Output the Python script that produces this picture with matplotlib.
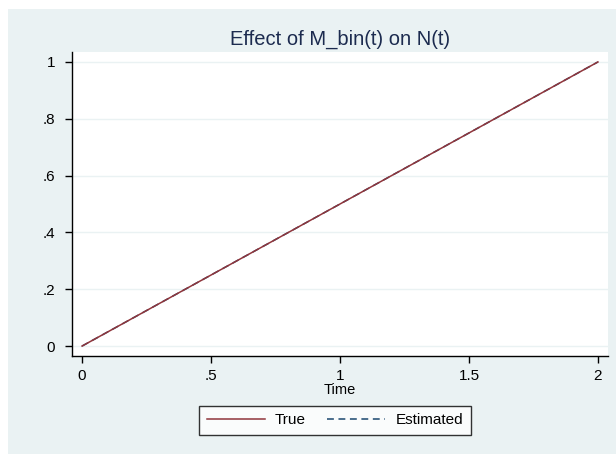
import matplotlib.pyplot as plt
from matplotlib.patches import Rectangle

# data
time = [0.0, 0.5, 1.0, 1.5, 2.0]
true_vals = [0.0, 0.25, 0.5, 0.75, 1.0]
est_vals = [0.0, 0.25, 0.5, 0.75, 1.0]
xticks = [0, 0.5, 1, 1.5, 2]
xlabels = ['0', '.5', '1', '1.5', '2']
yticks = [0, 0.2, 0.4, 0.6, 0.8, 1]
ylabels = ['0', '.2', '.4', '.6', '.8', '1']

plt.rcParams['font.family'] = ['Liberation Sans', 'DejaVu Sans']
bg = '#eaf2f3'
W, H = 616, 454

fig = plt.figure(figsize=(W / 100, H / 100), dpi=100, facecolor='white')
fig.add_artist(Rectangle((8 / W, 0), 1, 1 - 9 / H, transform=fig.transFigure,
                         facecolor=bg, edgecolor='none', zorder=-5))

ax = fig.add_axes([72 / W, 1 - 356 / H, (608 - 72) / W, (356 - 52) / H], zorder=2)
ax.set_facecolor('white')
ax.plot(time, est_vals, color='#1a476f', linestyle=(0, (4.5, 3)), linewidth=1.1, label='Estimated')
ax.plot(time, true_vals, color='#90353b', linewidth=1.1, label='True')

ax.set_xlim(-0.039, 2.039)
ax.set_ylim(-0.035, 1.035)
ax.set_xticks(xticks)
ax.set_xticklabels(xlabels)
ax.set_yticks(yticks)
ax.set_yticklabels(ylabels)
ax.grid(axis='y', color=bg, linewidth=1)
ax.set_axisbelow(True)
for s in ['top', 'right']:
    ax.spines[s].set_visible(False)
for s in ['left', 'bottom']:
    ax.spines[s].set_color('black')
    ax.spines[s].set_linewidth(1)
ax.tick_params(direction='out', length=5, width=1, colors='black', labelsize=11, pad=4)
ax.tick_params(axis='y', pad=7)

ax.set_title('Effect of M_bin(t) on N(t)', fontsize=14.5, color='#1c2b4f', pad=5)
ax.set_xlabel('Time', fontsize=10.5, labelpad=0)

# True first in the legend, like the reference
handles, labels = ax.get_legend_handles_labels()
leg = ax.legend(handles[::-1], labels[::-1], loc='upper center',
                bbox_to_anchor=((335 - 72) / 536, -0.164),
                ncol=2, frameon=True, fancybox=False, fontsize=11, handlelength=3.8,
                handletextpad=0.65, columnspacing=1.4, borderpad=0.5, borderaxespad=0)
leg.get_frame().set_edgecolor('black')
leg.get_frame().set_linewidth(1)

fig.savefig('out.png', dpi=100, facecolor='white')
